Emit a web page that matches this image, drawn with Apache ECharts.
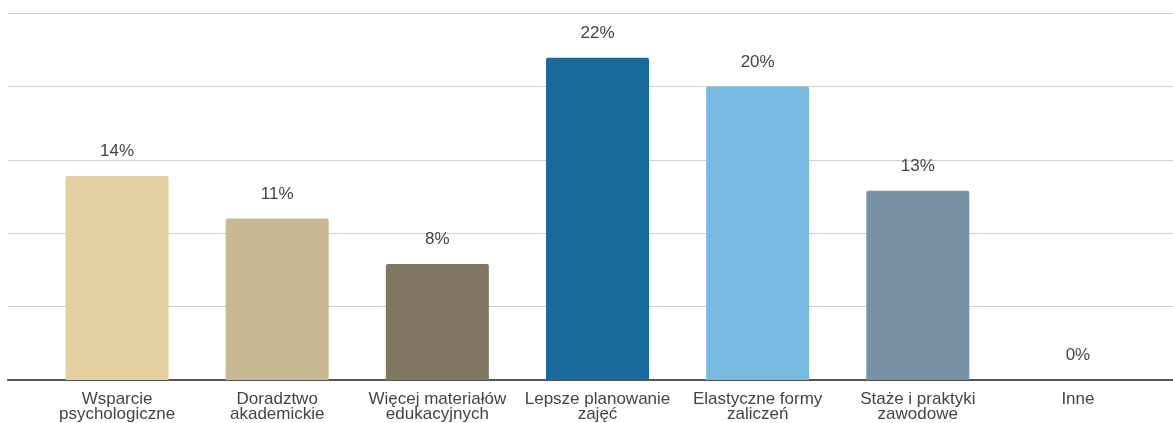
<!DOCTYPE html>
<html>
<head>
<meta charset="utf-8">
<script src="https://cdn.jsdelivr.net/npm/echarts@6/dist/echarts.min.js"></script>
<style>
html,body{margin:0;padding:0;background:#fff;}
#chart{width:1173px;height:423px;}
</style>
</head>
<body>
<div id="chart"></div>
<script>
const categories = ['Wsparcie\npsychologiczne', 'Doradztwo\nakademickie', 'Więcej materiałów\nedukacyjnych', 'Lepsze planowanie\nzajęć', 'Elastyczne formy\nzaliczeń', 'Staże i praktyki\nzawodowe', 'Inne'];
const values = [13.9, 11.0, 7.9, 21.95, 20.0, 12.9, 0];
const colors = ['#E4CFA0', '#C8B893', '#817760', '#19699A', '#78B9DF', '#7892A5', '#999999'];
const yTicks = [0, 5, 10, 15, 20, 25];

const chart = echarts.init(document.getElementById('chart'));
const font = 'Arial, "Liberation Sans", sans-serif';
chart.setOption({
  animation: false,
  grid: [
    {left: 8, right: 0, top: 13, bottom: 43},
    {left: 37, right: 15, top: 13, bottom: 43}
  ],
  xAxis: [
    {type: 'category', gridIndex: 0, data: [''], axisTick: {show: false}, axisLabel: {show: false},
     axisLine: {show: true, lineStyle: {color: '#555', width: 2}}},
    {type: 'category', gridIndex: 1, data: categories, axisTick: {show: false},
     axisLine: {show: false},
     axisLabel: {interval: 0, color: '#444', fontSize: 17, fontFamily: font, lineHeight: 15, margin: 12}}
  ],
  yAxis: [
    {type: 'value', gridIndex: 0, min: yTicks[0], max: yTicks[yTicks.length - 1], interval: 5,
     axisLabel: {show: false}, axisLine: {show: false}, axisTick: {show: false},
     splitLine: {show: true, lineStyle: {color: '#d0d0d0', width: 1}}},
    {type: 'value', gridIndex: 1, min: yTicks[0], max: yTicks[yTicks.length - 1], interval: 5,
     axisLabel: {show: false}, axisLine: {show: false}, axisTick: {show: false}, splitLine: {show: false}}
  ],
  series: [{
    type: 'bar',
    xAxisIndex: 1, yAxisIndex: 1,
    data: values.map((v, i) => ({value: v, itemStyle: {color: colors[i]}})),
    barWidth: 103,
    itemStyle: {borderRadius: [2, 2, 0, 0]},
    label: {show: true, position: 'top', distance: 16, color: '#444', fontSize: 17, fontFamily: font,
      formatter: p => Math.round(p.value) + '%'}
  }]
});
</script>
</body>
</html>
